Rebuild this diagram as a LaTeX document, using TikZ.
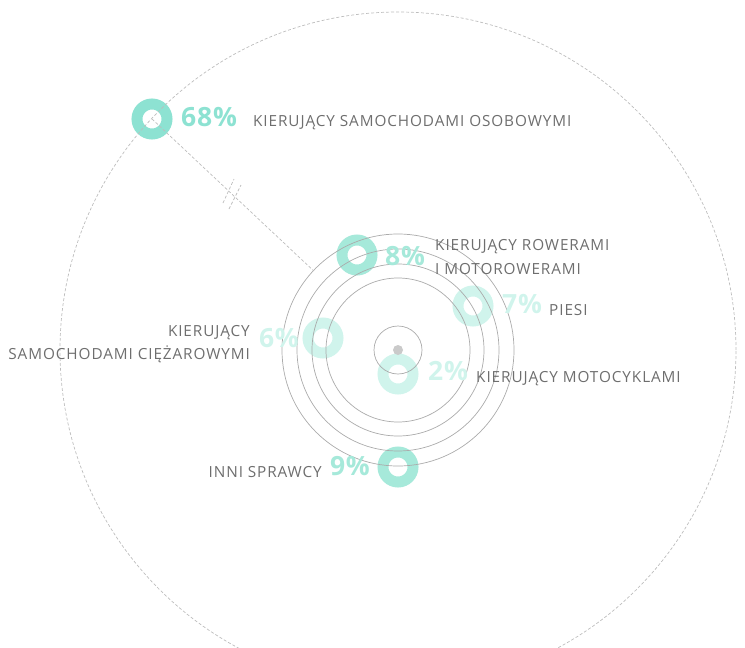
\documentclass[tikz,border=0pt]{standalone}
\usepackage{fontspec}
\setmainfont{Open Sans}
\newfontfamily\labelfont[LetterSpace=6]{Open Sans}
\newfontfamily\pctfont[LetterSpace=3]{Open Sans}
\usepackage{xcolor}
\definecolor{mint}{HTML}{8DE2D2}
\definecolor{mintmid}{HTML}{A6E9DA}
\definecolor{mintpale}{HTML}{D0F4EC}
\definecolor{labelgrey}{HTML}{6E6E6E}
\definecolor{linegrey}{HTML}{ABABAB}
\definecolor{dashgrey}{HTML}{BDBDBD}
\definecolor{dotgrey}{HTML}{CACACA}
\tikzset{
	ring/.style={circle, draw=#1, line width=11pt, minimum size=30pt, inner sep=0pt},
	pct/.style={text=#1, font=\pctfont\fontsize{26.5}{26.5}\selectfont\bfseries, inner sep=0pt},
	lbl/.style={text=labelgrey, font=\labelfont\fontsize{15.3}{23.5}\selectfont, inner sep=0pt},
	orbit/.style={draw=linegrey, line width=0.7pt},
	guide/.style={draw=dashgrey, line width=0.7pt, dash pattern=on 3pt off 2pt}
}

\begin{document}
\begin{tikzpicture}[x=1pt, y=-1pt]
			\useasboundingbox (0,0) rectangle (745,648);
			\clip (0,0) rectangle (745,648);
			\coordinate (c) at (398,350);
			\node[ring=mint] (r68) at (152,119) {};
			\node[ring=mintmid] (r8) at (357,255) {};
			\node[ring=mintpale] (r7) at (473,306) {};
			\node[ring=mintpale] (r6) at (323,338) {};
			\node[ring=mintpale] (r2) at (398,374) {};
			\node[ring=mintmid] (r9) at (398,467) {};
			
			\draw[guide] (c) circle [radius=338pt];
			\foreach \rad in {24,72,86,101,116}
				\draw[orbit] (c) circle [radius=\rad pt];
			\fill[dotgrey] (c) circle [radius=5pt];
			\coordinate (tip) at (313.4,270.6);
			\draw[guide] (r68.center) -- (tip);
			\draw[guide] (223,203) -- (234,179) (229,209) -- (241,185);
			
			\node[pct=mint, anchor=base west] (p68) at (181,126) {68\%};
			\node[lbl, anchor=base west] (l68) at (253,126) {KIERUJĄCY SAMOCHODAMI OSOBOWYMI};
			\node[pct=mintmid, anchor=base west] (p8) at (385,265) {8\%};
			\node[lbl, anchor=west, align=left] (l8) at (435,257) {KIERUJĄCY ROWERAMI\\I MOTOROWERAMI};
			\node[pct=mintpale, anchor=base west] (p7) at (502,313) {7\%};
			\node[lbl, anchor=base west] (l7) at (549,315) {PIESI};
			\node[pct=mintpale, anchor=base east] (p6) at (299,347) {6\%};
			\node[lbl, anchor=east, align=right] (l6) at (250,344) {KIERUJĄCY\\SAMOCHODAMI CIĘŻAROWYMI};
			\node[pct=mintpale, anchor=base west] (p2) at (428,380) {2\%};
			\node[lbl, anchor=base west] (l2) at (476,382) {KIERUJĄCY MOTOCYKLAMI};
			\node[pct=mintmid, anchor=base east] (p9) at (370,475) {9\%};
			\node[lbl, anchor=base east] (l9) at (322,477) {INNI SPRAWCY};
		\end{tikzpicture}
\end{document}
